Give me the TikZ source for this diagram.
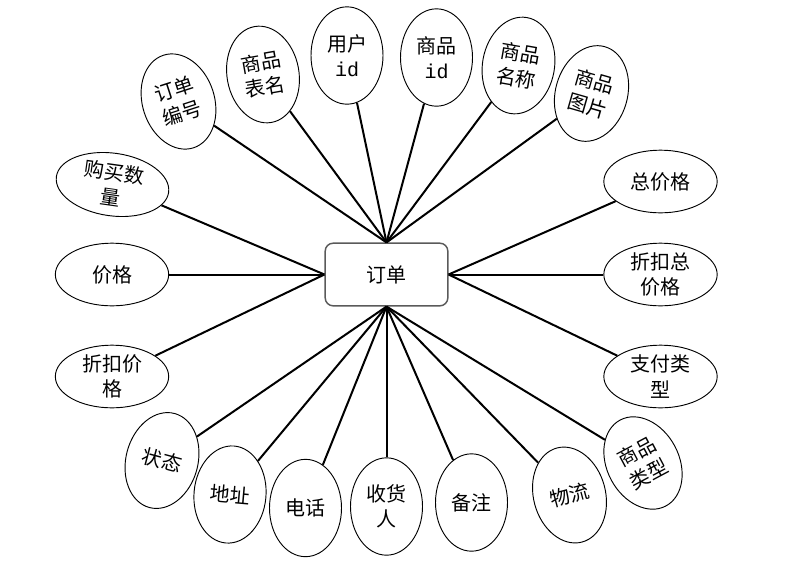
\documentclass[tikz,border=0pt]{standalone}
\usepackage{fontspec}
\setmainfont{Noto Sans CJK SC}
\newfontfamily\idfont{Liberation Mono}
\usepackage{tikz}
\usetikzlibrary{shapes.geometric}
\definecolor{boxgray}{HTML}{5A5A5A}

\begin{document}
\begin{tikzpicture}[x=0.75pt, y=-0.75pt, font=\fontsize{15}{19}\selectfont,
  entity/.style={draw=boxgray, line width=1.1pt, rounded corners=6pt,
    minimum width=92pt, minimum height=47pt, inner sep=0pt},
  attr/.style={draw, ellipse, line width=0.7pt, align=center, inner sep=0pt,
    minimum width=54pt, minimum height=73pt},
  wide/.style={attr, minimum width=85pt, minimum height=47pt},
  link/.style={line width=1.5pt}]
  \useasboundingbox (0,0) rectangle (796,572);

  % Entita
  \node[entity] (order) at (386.5,274.5) {订单};

  % Atributy nahoře
  \node[attr, rotate=18]  (ddbh) at (178.5,101.5) {订单\\编号};
  \node[attr, rotate=10]  (spbm) at (263,74.5)    {商品\\表名};
  \node[attr]             (yhid) at (347,55.5)    {用户\\{\idfont id}};
  \node[attr]             (spid) at (436.5,57.5)  {商品\\{\idfont id}};
  \node[attr, rotate=-10] (spmc) at (518.5,65.5)  {商品\\名称};
  \node[attr, rotate=-16] (sptp) at (591.5,93.5)  {商品\\图片};

  % Atributy vlevo
  \node[wide, rotate=-8] (gmsl) at (112.5,184.5) {购买数\\量};
  \node[wide]            (jg)   at (112,274.5)   {价格};
  \node[wide]            (zkjg) at (112,376.5)   {折扣价\\格};

  % Atributy vpravo
  \node[wide] (zjg)   at (660.5,181.5) {总价格};
  \node[wide] (zkzjg) at (660.5,274.5) {折扣总\\价格};
  \node[wide] (zflx)  at (660.5,376.5) {支付类\\型};

  % Atributy dole
  \node[attr, rotate=-15] (zt)   at (162,460.5)   {状态};
  \node[attr, rotate=-5]  (dz)   at (230,494.5)   {地址};
  \node[attr]             (dh)   at (305.5,508)   {电话};
  \node[attr]             (shr)  at (386.5,506.5) {收货\\人};
  \node[attr]             (bz)   at (471.5,502.5) {备注};
  \node[attr, rotate=15]  (wl)   at (569.5,495)   {物流};
  \node[attr, rotate=28]  (splx) at (643,463)     {商品\\类型};

  % Spojnice
  \foreach \a in {ddbh, spbm, yhid, spid, spmc, sptp}
    \draw[link] (order.north) -- (\a);
  \foreach \a in {gmsl, jg, zkjg}
    \draw[link] (order.west) -- (\a);
  \foreach \a in {zjg, zkzjg, zflx}
    \draw[link] (order.east) -- (\a);
  \foreach \a in {zt, dz, dh, shr, bz, wl, splx}
    \draw[link] (order.south) -- (\a);
\end{tikzpicture}
\end{document}
